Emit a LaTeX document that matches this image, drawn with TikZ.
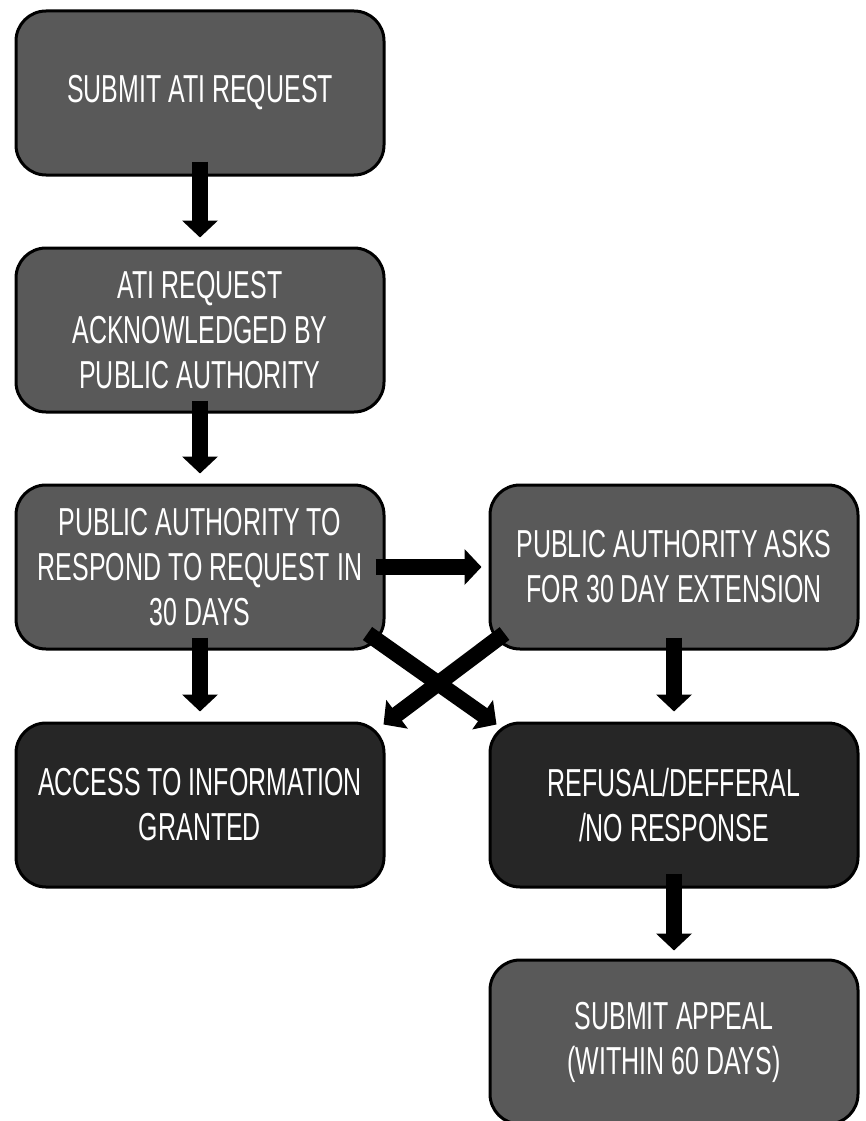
\documentclass[tikz,border=0pt]{standalone}
\usepackage{fontspec}
\setmainfont[FakeStretch=0.64]{Liberation Sans}
\usetikzlibrary{positioning,arrows.meta}

\definecolor{boxgray}{HTML}{595959}
\definecolor{boxdark}{HTML}{262626}

\begin{document}
\begin{tikzpicture}[x=1pt, y=-1pt,
  stepbox/.style={draw=black, line width=3pt, rounded corners=30pt,
    minimum width=368pt, minimum height=164pt, inner sep=0pt,
    text=white, align=center, font=\fontsize{39}{45}\selectfont},
  graybox/.style={stepbox, fill=boxgray},
  darkbox/.style={stepbox, fill=boxdark},
  blockarrow/.style={draw=black, line width=16pt,
    -{Triangle[width=35pt, length=17pt]}}]
\useasboundingbox (0, 0) rectangle (866, 1121);

\def\xa{200};
\def\xb{674};

\def\ya{93};
\def\yb{330};
\def\yc{567};
\def\yd{805};
\def\ye{1042};

\node[graybox](submit) at (\xa, \ya) {SUBMIT ATI REQUEST};
\node[graybox](ack) at (\xa, \yb) {ATI REQUEST\\ACKNOWLEDGED BY\\PUBLIC AUTHORITY};
\node[graybox](respond) at (\xa, \yc) {PUBLIC AUTHORITY TO\\RESPOND TO REQUEST IN\\30 DAYS};
\node[graybox](extend) at (\xb, \yc) {PUBLIC AUTHORITY ASKS\\FOR 30 DAY EXTENSION};
\node[darkbox](granted) at (\xa, \yd) {ACCESS TO INFORMATION\\GRANTED};
\node[darkbox](refusal) at (\xb, \yd) {REFUSAL/DEFFERAL\\/NO RESPONSE};
\node[graybox](appeal) at (\xb, \ye) {SUBMIT APPEAL\\(WITHIN 60 DAYS)};

\draw[blockarrow] ([yshift=15pt]submit.south) -- ([yshift=9pt]ack.north);
\draw[blockarrow] ([yshift=13pt]ack.south) -- ([yshift=10pt]respond.north);
\draw[blockarrow] ([xshift=-10pt]respond.east) -- ([xshift=-7pt]extend.west);
\draw[blockarrow] ([yshift=13pt]respond.south) -- ([yshift=10pt]granted.north);
\draw[blockarrow] ([yshift=13pt]extend.south) -- ([yshift=10pt]refusal.north);
\draw[blockarrow] ([shift={(-18pt,17pt)}]respond.south east) -- ([shift={(8pt,-3pt)}]refusal.north west);
\draw[blockarrow] ([shift={(16pt,17pt)}]extend.south west) -- ([shift={(-2pt,-3pt)}]granted.north east);
\draw[blockarrow] ([yshift=15pt]refusal.south) -- ([yshift=8pt]appeal.north);
\end{tikzpicture}
\end{document}
